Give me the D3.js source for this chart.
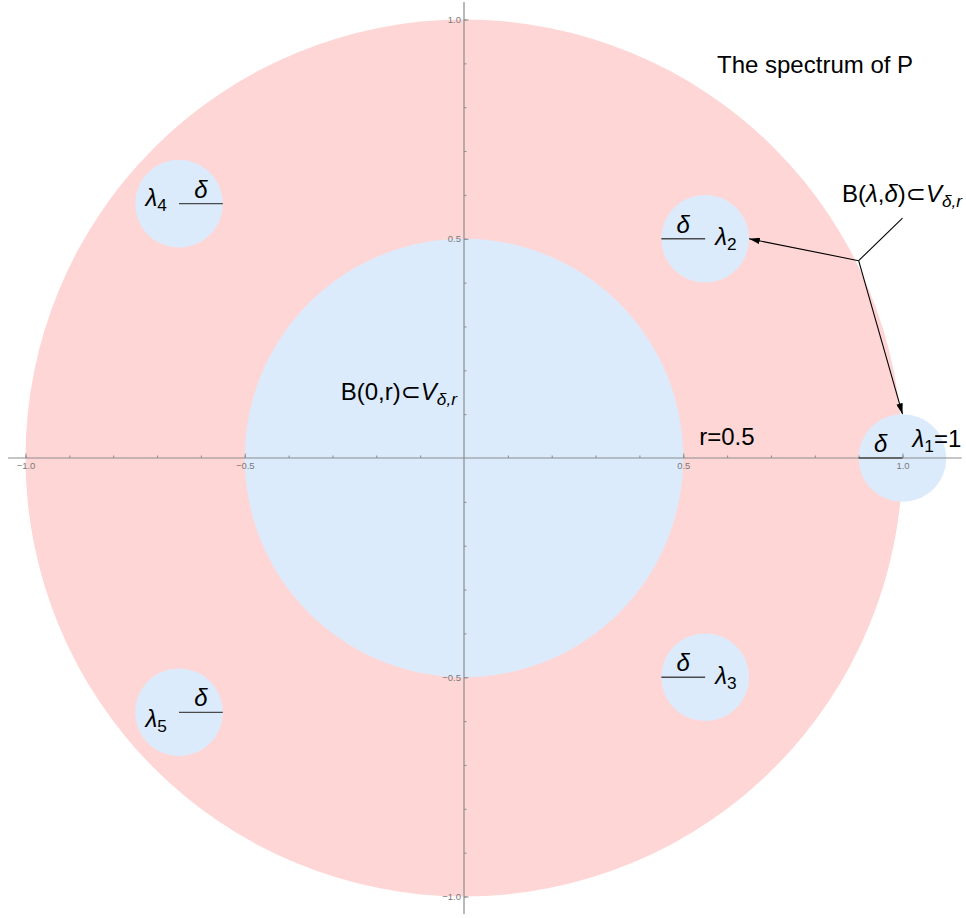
<!DOCTYPE html>
<html>
<head>
<meta charset="utf-8">
<script src="https://cdn.jsdelivr.net/npm/d3@7"></script>
<style>
  html, body { margin: 0; padding: 0; background: #fff; }
  svg { display: block; }
  text { font-family: "Liberation Sans", Arial, "DejaVu Sans", sans-serif; }
</style>
</head>
<body>
<svg id="chart" width="966" height="918"></svg>
<script>
// Eigenvalues of P in the complex plane
const lambdaRe = [1, 0.55, 0.55, -0.65, -0.65];
const lambdaIm = [0, 0.5, -0.5, 0.58, -0.58];
const lambdaSub = ["1", "2", "3", "4", "5"];
// direction of the drawn radius segment for each small ball (-1 = left, +1 = right)
const radiusDir = [-1, -1, -1, 1, 1];

const delta = 0.1;          // radius of each ball B(λ, δ)
const rInner = 0.5;         // radius of B(0, r)
const rSpectrum = 1.0;      // unit disk

// axis ticks
const majorTicks = [-1, -0.5, 0.5, 1];
const xAxisExtent = [-1.04, 1.135];
const yAxisExtent = [-1.04, 1.04];

// callout: junction point and label leader end
const calloutJoint = [0.9, 0.45];
const calloutLeader = [1.0, 0.547];

const W = 966, H = 918;
const cx = 464, cy = 458, unit = 438.5;

const x = d3.scaleLinear().domain([-1, 1]).range([cx - unit, cx + unit]);
const y = d3.scaleLinear().domain([-1, 1]).range([cy + unit, cy - unit]);
const len = v => x(v) - x(0);

const svg = d3.select("#chart");

const pink = "#ffd6d6";
const blue = "#dbebfc";

// unit disk
svg.append("circle")
  .attr("cx", x(0)).attr("cy", y(0)).attr("r", len(rSpectrum))
  .attr("fill", pink);

// B(0, r)
svg.append("circle")
  .attr("cx", x(0)).attr("cy", y(0)).attr("r", len(rInner))
  .attr("fill", blue);

const eig = lambdaRe.map((re, i) => ({ re, im: lambdaIm[i], sub: lambdaSub[i], dir: radiusDir[i] }));

// small balls around each eigenvalue
svg.append("g").selectAll("circle").data(eig).join("circle")
  .attr("cx", d => x(d.re)).attr("cy", d => y(d.im)).attr("r", len(delta))
  .attr("fill", blue);

// ---- axes ----
const axisColor = "#8c8c8c";
const labelColor = "#7a7a7a";

const axes = svg.append("g");
axes.append("line")
  .attr("x1", x(xAxisExtent[0])).attr("x2", x(xAxisExtent[1]))
  .attr("y1", y(0)).attr("y2", y(0))
  .attr("stroke", axisColor).attr("stroke-width", 1.2);
axes.append("line")
  .attr("x1", x(0)).attr("x2", x(0))
  .attr("y1", y(yAxisExtent[1])).attr("y2", y(yAxisExtent[0]))
  .attr("stroke", axisColor).attr("stroke-width", 1.2);

const minor = x.ticks(20).filter(t => Math.abs(t) > 1e-9);
const fmt = d3.format(".1f");

function styleAxis(g) {
  g.select(".domain").remove();
  g.selectAll(".tick line").attr("stroke", axisColor).attr("stroke-width", 1);
  g.selectAll(".tick text")
    .attr("fill", labelColor)
    .style("font-family", "'Liberation Sans', Arial, sans-serif")
    .style("font-size", "9.5px");
}

// x axis: ticks pointing up, labels below
axes.append("g").attr("transform", `translate(0,${y(0)})`)
  .call(d3.axisBottom(x).tickValues(minor).tickSizeInner(-2.5).tickSizeOuter(0).tickFormat(""))
  .call(styleAxis);
axes.append("g").attr("transform", `translate(0,${y(0)})`)
  .call(d3.axisBottom(x).tickValues(majorTicks).tickSizeInner(-4.5).tickSizeOuter(0)
    .tickPadding(4).tickFormat(fmt))
  .call(styleAxis);

// y axis: ticks pointing right, labels left
axes.append("g").attr("transform", `translate(${x(0)},0)`)
  .call(d3.axisLeft(y).tickValues(minor).tickSizeInner(-2.5).tickSizeOuter(0).tickFormat(""))
  .call(styleAxis);
axes.append("g").attr("transform", `translate(${x(0)},0)`)
  .call(d3.axisLeft(y).tickValues(majorTicks).tickSizeInner(-4.5).tickSizeOuter(0)
    .tickPadding(3).tickFormat(fmt))
  .call(styleAxis);

// ---- radius segments and labels ----
const ink = "#000";
const fs = 24;

svg.append("g").selectAll("line").data(eig).join("line")
  .attr("x1", d => x(d.re)).attr("y1", d => y(d.im))
  .attr("x2", d => x(d.re + d.dir * delta)).attr("y2", d => y(d.im))
  .attr("stroke", "#4a4a4a").attr("stroke-width", 1.3);

// δ above each radius segment
svg.append("g").selectAll("text").data(eig).join("text")
  .attr("x", d => x(d.re + d.dir * delta / 2))
  .attr("y", d => y(d.im) - 6)
  .attr("text-anchor", "middle")
  .attr("font-size", fs).attr("font-style", "italic")
  .text("δ");

// λ labels: offsets from the eigenvalue in pixels
const labelLayout = {
  "1": { dx: 10, dy: -11, anchor: "start", tail: "=1" },
  "2": { dx: 10, dy: 6, anchor: "start", tail: "" },
  "3": { dx: 10, dy: 7, anchor: "start", tail: "" },
  "4": { dx: -12, dy: 2.5, anchor: "end", tail: "" },
  "5": { dx: -12, dy: 14.5, anchor: "end", tail: "" }
};

eig.forEach(d => {
  const L = labelLayout[d.sub];
  const t = svg.append("text")
    .attr("x", x(d.re) + L.dx).attr("y", y(d.im) + L.dy)
    .attr("text-anchor", L.anchor)
    .attr("font-size", fs);
  t.append("tspan").attr("font-style", "italic").text("λ");
  t.append("tspan").attr("font-size", fs * 0.72).attr("dy", 5).text(d.sub);
  if (L.tail) t.append("tspan").attr("dy", -5).text(L.tail);
});

// helper for "…⊂V_{δ,r}"
function ballLabel(sel, prefix) {
  sel.append("tspan").text(prefix + "⊂");
  sel.append("tspan").attr("font-style", "italic").text("V");
  sel.append("tspan").attr("font-style", "italic").attr("font-size", fs * 0.72)
    .attr("dy", 5).text("δ,r");
}

// B(0,r) label inside the inner disk
const b0 = svg.append("text")
  .attr("x", x(0) - 7).attr("y", y(0) - 58)
  .attr("text-anchor", "end").attr("font-size", fs);
ballLabel(b0, "B(0,r)");

// r = 0.5
svg.append("text")
  .attr("x", x(rInner) + 16).attr("y", y(0) - 13)
  .attr("font-size", fs).text("r=" + rInner);

// title-like note
svg.append("text")
  .attr("x", 717).attr("y", 73)
  .attr("font-size", fs).text("The spectrum of P");

// callout for B(λ,δ)
const bl = svg.append("text")
  .attr("x", 842).attr("y", 202).attr("font-size", fs);
bl.append("tspan").text("B(");
bl.append("tspan").attr("font-style", "italic").text("λ");
bl.append("tspan").text(",");
bl.append("tspan").attr("font-style", "italic").text("δ");
bl.append("tspan").text(")⊂");
bl.append("tspan").attr("font-style", "italic").text("V");
bl.append("tspan").attr("font-style", "italic").attr("font-size", fs * 0.72)
  .attr("dy", 5).text("δ,r");

svg.append("defs").append("marker")
  .attr("id", "ah").attr("viewBox", "0 0 10 6")
  .attr("refX", 10).attr("refY", 3)
  .attr("markerWidth", 11).attr("markerHeight", 6.5)
  .attr("markerUnits", "userSpaceOnUse")
  .attr("orient", "auto")
  .append("path").attr("d", "M0,0 L10,3 L0,6 Z").attr("fill", ink);

const callout = svg.append("g").attr("stroke", ink).attr("stroke-width", 1.1).attr("fill", "none");
callout.append("line")
  .attr("x1", x(calloutJoint[0])).attr("y1", y(calloutJoint[1]))
  .attr("x2", x(calloutLeader[0])).attr("y2", y(calloutLeader[1]));
// arrows to λ2's ball (right edge) and λ1's ball (top)
const targets = [
  [lambdaRe[1] + delta, lambdaIm[1]],
  [lambdaRe[0], lambdaIm[0] + delta]
];
targets.forEach(tg => {
  callout.append("line")
    .attr("x1", x(calloutJoint[0])).attr("y1", y(calloutJoint[1]))
    .attr("x2", x(tg[0])).attr("y2", y(tg[1]))
    .attr("marker-end", "url(#ah)");
});
</script>
</body>
</html>
